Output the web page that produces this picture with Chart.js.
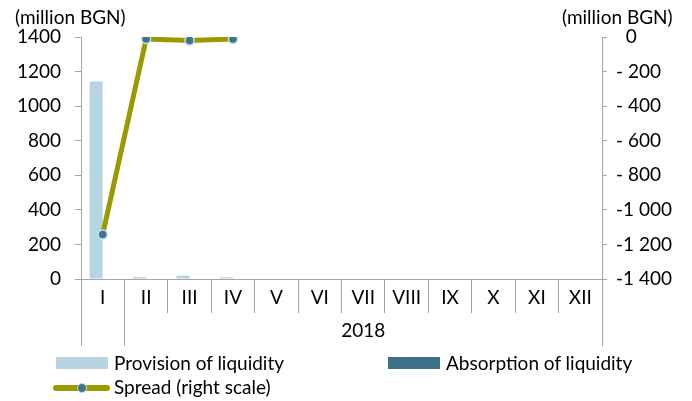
<!DOCTYPE html>
<html>
<head>
<meta charset="utf-8">
<script src="https://cdn.jsdelivr.net/npm/chart.js@4/dist/chart.umd.min.js"></script>
<style>
  body { margin: 0; background: #fff; font-family: Lato, sans-serif; }
  #wrap { position: relative; width: 692px; height: 401px; }
  .box { position: absolute; width: 52px; height: 12px; }
  .txt { position: absolute; font-size: 19px; line-height: 22px; color: #000; white-space: nowrap; }
</style>
</head>
<body>
<div id="wrap">
  <canvas id="grafico" width="692" height="401"></canvas>
  <div class="box" style="left:56px;top:357px;background:#b7d5e1"></div>
  <div class="txt" style="left:114px;top:352px">Provision of liquidity</div>
  <div class="box" style="left:388px;top:357px;background:#3e7188"></div>
  <div class="txt" style="left:446px;top:352px">Absorption of liquidity</div>
  <div style="position:absolute;left:53px;top:385px;width:57px;height:6px;border-radius:3px;background:#9c9900"></div>
  <div style="position:absolute;left:77px;top:383px;width:8px;height:8px;border-radius:50%;background:#3d7590;border:1px solid #c5dbe5"></div>
  <div class="txt" style="left:114px;top:376px">Spread (right scale)</div>
</div>
<script>
'use strict';

// categories
const months = ['I', 'II', 'III', 'IV', 'V', 'VI', 'VII', 'VIII', 'IX', 'X', 'XI', 'XII'];
const yearLabel = '2018';

// series (million BGN)
const provision = [1142, 12, 20, 10, null, null, null, null, null, null, null, null];
const absorption = [0, 0, 0, 0, null, null, null, null, null, null, null, null];
const spread = [-1142, -12, -20, -12, null, null, null, null, null, null, null, null];

// axis ranges
const leftMin = 0, leftMax = 1400, leftStep = 200;
const rightMin = -1400, rightMax = 0, rightStep = 200;
const unitLabel = '(million BGN)';

const gray = '#a6a6a6';
const fontBase = { family: 'Lato', size: 19 };

// right axis looks like "- 200", "-1 000"
function formatRight(v) {
    if (v === 0) return '  0';
    const a = Math.abs(v);
    if (a >= 1000) return '-' + Math.floor(a / 1000) + ' ' + String(a % 1000).padStart(3, '0');
    return '- ' + a;
}

// second row of the x axis (year) and the unit labels
const extras = {
    id: 'extras',
    afterDraw(chart) {
        const { ctx, chartArea, scales } = chart;
        const x = scales.x;
        const split = (x.getPixelForValue(0) + x.getPixelForValue(1)) / 2;
        ctx.save();
        ctx.strokeStyle = gray;
        ctx.lineWidth = 1;
        [chartArea.left, split, chartArea.right].forEach(px => {
            const p = Math.round(px) + 0.5;
            ctx.beginPath();
            ctx.moveTo(p, chartArea.bottom);
            ctx.lineTo(p, chartArea.bottom + 67);
            ctx.stroke();
        });
        ctx.fillStyle = '#000';
        ctx.font = '19px Lato';
        ctx.textBaseline = 'middle';
        ctx.textAlign = 'center';
        ctx.fillText(yearLabel, (split + chartArea.right) / 2, chartArea.bottom + 52);
        ctx.textAlign = 'left';
        ctx.fillText(unitLabel, 15, 18);
        ctx.fillText(unitLabel, 562, 18);
        ctx.restore();
    }
};

const grafico = new Chart(document.getElementById('grafico'), {
    type: 'bar',
    data: {
        labels: months,
        datasets: [{
            type: 'line',
            label: 'Spread (right scale)',
            data: spread,
            yAxisID: 'y2',
            borderColor: '#9c9900',
            borderWidth: 5,
            tension: 0,
            pointRadius: 4.5,
            pointBackgroundColor: '#3d7590',
            pointBorderColor: '#c5dbe5',
            pointBorderWidth: 1.5,
            order: 0
        }, {
            label: 'Provision of liquidity',
            data: provision,
            yAxisID: 'y',
            backgroundColor: '#b7d5e1',
            barPercentage: 1,
            categoryPercentage: 0.6,
            order: 1
        }, {
            label: 'Absorption of liquidity',
            data: absorption,
            yAxisID: 'y',
            backgroundColor: '#3e7188',
            barPercentage: 1,
            categoryPercentage: 0.6,
            order: 1
        }]
    },
    options: {
        responsive: false,
        animation: false,
        devicePixelRatio: 1,
        layout: { padding: { top: 37, left: 0, right: 0, bottom: 0 } },
        plugins: { legend: { display: false }, tooltip: { enabled: false } },
        scales: {
            x: {
                offset: true,
                grid: { offset: true, drawOnChartArea: false, tickLength: 34, color: gray },
                border: { color: gray },
                ticks: { font: fontBase, color: '#000', padding: -27, maxRotation: 0, autoSkip: false },
                afterFit(scale) { scale.height = 122; }
            },
            y: {
                position: 'left',
                min: leftMin,
                max: leftMax,
                grid: { drawOnChartArea: false, tickLength: 6, color: gray },
                border: { color: gray },
                ticks: { stepSize: leftStep, font: fontBase, color: '#000', padding: 14, callback: v => String(v) },
                afterFit(scale) { scale.width = 81; }
            },
            y2: {
                position: 'right',
                min: rightMin,
                max: rightMax,
                grid: { drawOnChartArea: false, tickLength: 5, color: gray },
                border: { color: gray },
                ticks: { stepSize: rightStep, font: fontBase, color: '#000', padding: 9, callback: formatRight },
                afterFit(scale) { scale.width = 90; }
            }
        }
    },
    plugins: [extras]
});
</script>
</body>
</html>
